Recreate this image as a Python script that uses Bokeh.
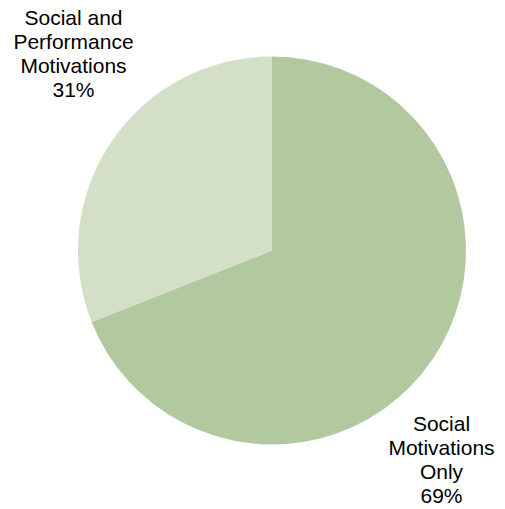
import math
from bokeh.plotting import figure
from bokeh.models import Range1d, ColumnDataSource
from bokeh.core.properties import value
from bokeh.embed import file_html
from bokeh.resources import INLINE

# Data
categories = ["Social Motivations Only", "Social and Performance Motivations"]
labels = ["Social\nMotivations\nOnly\n69%", "Social and\nPerformance\nMotivations\n31%"]
shares = [69, 31]
colors = ["#B2C99F", "#D3DFC7"]

W, H = 505, 509
p = figure(width=W, height=H, output_backend="svg", toolbar_location=None,
           x_range=Range1d(0, W), y_range=Range1d(0, H), min_border=0)
p.axis.visible = False
p.grid.visible = False
p.outline_line_color = None

cx, cy, r = 271.5, H - 250, 194
total = sum(shares)
starts, ends = [], []
acc = 0.0
for s in shares:
    a0 = math.pi / 2 - 2 * math.pi * acc / total
    acc += s
    a1 = math.pi / 2 - 2 * math.pi * acc / total
    starts.append(a0)
    ends.append(a1)

src = ColumnDataSource(dict(start=starts, end=ends, color=colors, cat=categories))
p.wedge(x=cx, y=cy, radius=r, start_angle="start", end_angle="end", direction="clock",
        fill_color="color", line_color=None, source=src)

# labels
label_pos = [(441, 423), (73, 17)]  # (center x, first baseline) in image px
tx, ty, tt = [], [], []
for lab, (lx, ly) in zip(labels, label_pos):
    for i, line in enumerate(lab.split("\n")):
        tx.append(lx)
        ty.append(H - (ly + 24 * i))
        tt.append(line)
p.text(x=tx, y=ty, text=tt, text_font=value("Liberation Sans"), text_font_size="21px",
       text_align="center", text_baseline="alphabetic", text_color="#000000")

open("out.html", "w").write(file_html(p, INLINE))
